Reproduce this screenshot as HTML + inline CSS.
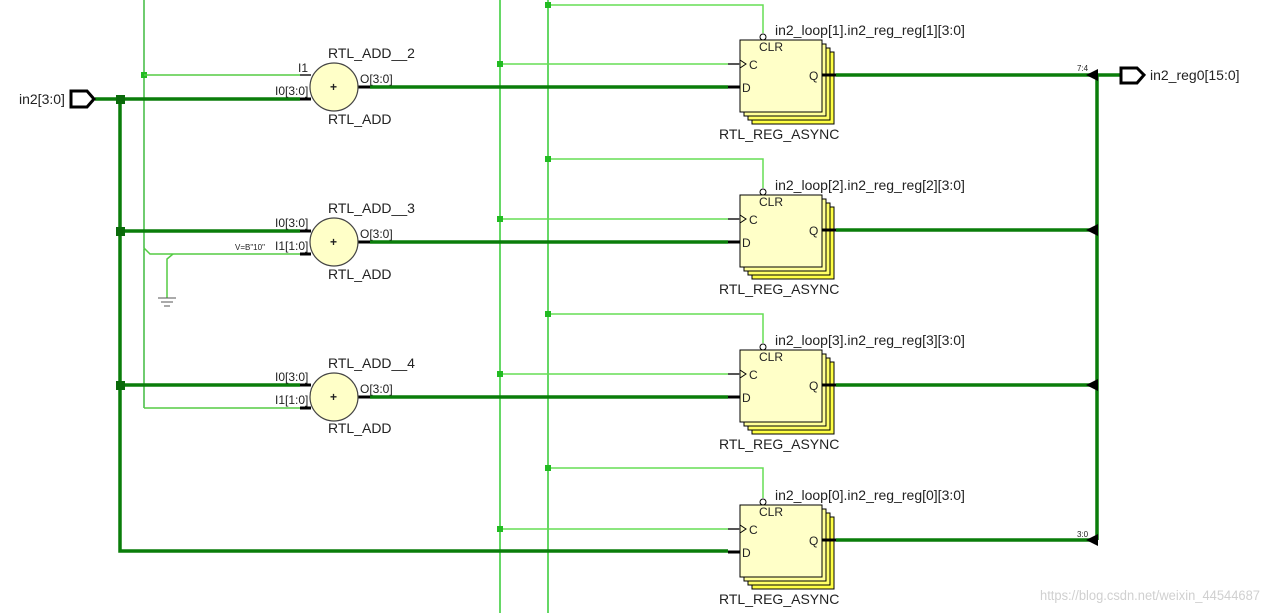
<!DOCTYPE html>
<html><head><meta charset="utf-8"><style>
html,body{margin:0;padding:0;background:#fff;width:1269px;height:613px;overflow:hidden}
svg text{font-family:"Liberation Sans",sans-serif;fill:#222}
</style></head><body>
<svg width="1269" height="613" xmlns="http://www.w3.org/2000/svg">
<defs>
<g id="reg">
  <rect x="752" y="12" width="82" height="72" fill="#ffff44" stroke="#000" stroke-width="1"/>
  <rect x="748" y="8" width="82" height="72" fill="#ffff66" stroke="#000" stroke-width="1"/>
  <rect x="744" y="4" width="82" height="72" fill="#ffff99" stroke="#000" stroke-width="1"/>
  <rect x="740" y="0" width="82" height="72" fill="#ffffc8" stroke="#000" stroke-width="1"/>
  <circle cx="763" cy="-3" r="3" fill="#fff" stroke="#000"/>
  <text x="759" y="11" font-size="12">CLR</text>
  <path d="M740 20 L746 24 L740 28" fill="none" stroke="#000"/>
  <text x="749" y="29" font-size="12">C</text>
  <text x="742" y="52" font-size="12">D</text>
  <text x="809" y="40" font-size="12">Q</text>
  <line x1="728" y1="24" x2="740" y2="24" stroke="#555" stroke-width="2"/>
  <line x1="728" y1="47" x2="740" y2="47" stroke="#000" stroke-width="3"/>
  <line x1="822" y1="35" x2="836" y2="35" stroke="#000" stroke-width="3"/>
  <text x="719" y="99" font-size="14">RTL_REG_ASYNC</text>
</g>
</defs>

<line x1="144" y1="0" x2="144" y2="408" stroke="#22b022" stroke-width="1.3"/>
<line x1="500" y1="0" x2="500" y2="613" stroke="#33cc33" stroke-width="1.5"/>
<line x1="548" y1="0" x2="548" y2="613" stroke="#33cc33" stroke-width="1.5"/>

<g stroke="#66dd55" stroke-width="1.5" fill="none">
<path d="M500 64 H740"/><path d="M500 219 H740"/><path d="M500 374 H740"/><path d="M500 529 H740"/>
<path d="M548 5 H763 V33"/><path d="M548 159 H763 V188"/><path d="M548 314 H763 V343"/><path d="M548 468 H763 V498"/>
</g>
<g fill="#22bb22">
<rect x="497" y="61" width="6" height="6"/><rect x="497" y="216" width="6" height="6"/><rect x="497" y="371" width="6" height="6"/><rect x="497" y="526" width="6" height="6"/>
<rect x="545" y="2" width="6" height="6"/><rect x="545" y="156" width="6" height="6"/><rect x="545" y="311" width="6" height="6"/><rect x="545" y="465" width="6" height="6"/>
<rect x="141" y="72" width="6" height="6"/>
</g>

<g stroke="#55cc44" stroke-width="1.5" fill="none">
<path d="M144 75 H300"/>
<path d="M144 408 H300"/>
<path d="M144 248 L150 254 H300"/>
<path d="M173 254 L167 259 V298"/>
</g>
<g stroke="#555" stroke-width="1"><line x1="158" y1="298" x2="176" y2="298"/><line x1="161" y1="302" x2="173" y2="302"/><line x1="164" y1="306" x2="170" y2="306"/></g>

<g stroke="#0a7d0a" stroke-width="3.5" fill="none">
<path d="M95 99 H300"/>
<path d="M120 99 V551 H728"/>
<path d="M120 231 H300"/>
<path d="M120 385 H300"/>
<path d="M370 87 H728"/><path d="M370 242 H728"/><path d="M370 397 H728"/>
<path d="M836 75 H1120"/><path d="M836 230 H1090"/><path d="M836 385 H1090"/><path d="M836 540 H1090"/>
<path d="M1097 75 V540"/>
</g>
<g fill="#0a6a0a"><rect x="116" y="95" width="9" height="9"/><rect x="116" y="227" width="9" height="9"/><rect x="116" y="381" width="9" height="9"/></g>
<g fill="#000">
<path d="M1086 75 L1098 69 L1098 81 Z"/><path d="M1086 230 L1098 224 L1098 236 Z"/><path d="M1086 385 L1098 379 L1098 391 Z"/><path d="M1086 540 L1098 534 L1098 546 Z"/>
</g>
<text x="1077" y="71" font-size="8">7:4</text>
<text x="1077" y="537" font-size="8">3:0</text>

<path d="M71 91 H87 L94 99 L87 107 H71 Z" fill="#fff" stroke="#000" stroke-width="3"/>
<text x="19" y="104" font-size="14">in2[3:0]</text>
<path d="M1121 68 H1137 L1144 75 L1137 83 H1121 Z" fill="#fff" stroke="#000" stroke-width="3"/>
<text x="1150" y="80" font-size="14">in2_reg0[15:0]</text>

<g font-size="12">
<g>
<line x1="300" y1="75" x2="311" y2="75" stroke="#555" stroke-width="2"/><line x1="300" y1="99" x2="311" y2="99" stroke="#000" stroke-width="3"/><line x1="357" y1="87" x2="370" y2="87" stroke="#000" stroke-width="3"/>
<circle cx="334" cy="87" r="24" fill="#ffffc8" stroke="#444" stroke-width="1.2"/><text x="330" y="91" font-weight="bold">+</text>
<text x="298" y="72">I1</text><text x="275" y="95">I0[3:0]</text><text x="360" y="83">O[3:0]</text>
<text x="328" y="58" font-size="14">RTL_ADD__2</text><text x="328" y="124" font-size="14">RTL_ADD</text>
</g>
<g>
<line x1="300" y1="231" x2="311" y2="231" stroke="#000" stroke-width="3"/><line x1="300" y1="254" x2="311" y2="254" stroke="#000" stroke-width="3"/><line x1="357" y1="242" x2="370" y2="242" stroke="#000" stroke-width="3"/>
<circle cx="334" cy="242" r="24" fill="#ffffc8" stroke="#444" stroke-width="1.2"/><text x="330" y="246" font-weight="bold">+</text>
<text x="275" y="227">I0[3:0]</text><text x="275" y="250">I1[1:0]</text><text x="360" y="238">O[3:0]</text>
<text x="235" y="250" font-size="8">V=B"10"</text>
<text x="328" y="213" font-size="14">RTL_ADD__3</text><text x="328" y="279" font-size="14">RTL_ADD</text>
</g>
<g>
<line x1="300" y1="385" x2="311" y2="385" stroke="#000" stroke-width="3"/><line x1="300" y1="408" x2="311" y2="408" stroke="#000" stroke-width="3"/><line x1="357" y1="397" x2="370" y2="397" stroke="#000" stroke-width="3"/>
<circle cx="334" cy="397" r="24" fill="#ffffc8" stroke="#444" stroke-width="1.2"/><text x="330" y="401" font-weight="bold">+</text>
<text x="275" y="381">I0[3:0]</text><text x="275" y="404">I1[1:0]</text><text x="360" y="393">O[3:0]</text>
<text x="328" y="368" font-size="14">RTL_ADD__4</text><text x="328" y="433" font-size="14">RTL_ADD</text>
</g>
</g>

<use href="#reg" transform="translate(0,40)"/>
<use href="#reg" transform="translate(0,195)"/>
<use href="#reg" transform="translate(0,350)"/>
<use href="#reg" transform="translate(0,505)"/>
<g font-size="14">
<text x="775" y="35">in2_loop[1].in2_reg_reg[1][3:0]</text>
<text x="775" y="190">in2_loop[2].in2_reg_reg[2][3:0]</text>
<text x="775" y="345">in2_loop[3].in2_reg_reg[3][3:0]</text>
<text x="775" y="500">in2_loop[0].in2_reg_reg[0][3:0]</text>
</g>
<text x="1040" y="600" font-size="13.5" textLength="220" lengthAdjust="spacingAndGlyphs" style="fill:#d0d0d0">https://blog.csdn.net/weixin_44544687</text>
</svg>
</body></html>
